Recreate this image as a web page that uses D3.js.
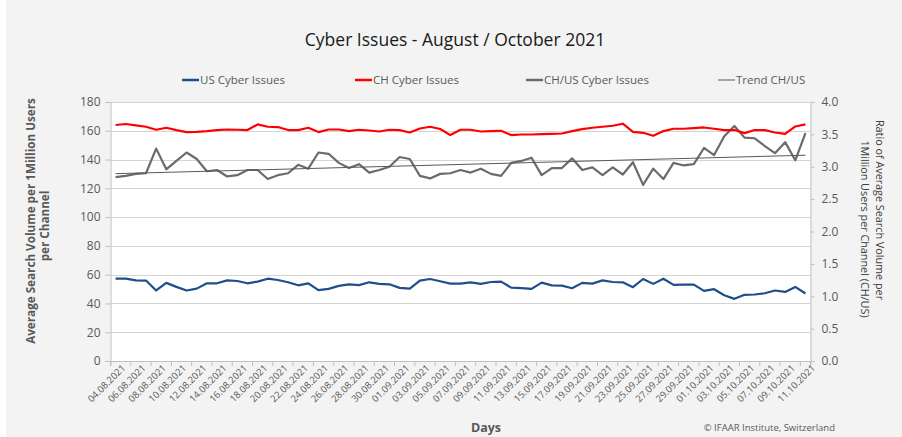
<!DOCTYPE html>
<html>
<head>
<meta charset="utf-8">
<script src="https://cdn.jsdelivr.net/npm/d3@7"></script>
<style>
  body { margin: 0; background: #ffffff; }
  svg { display: block; font-family: "Open Sans", "Noto Sans", sans-serif; }
</style>
</head>
<body>
<svg></svg>
<script>
var width = 902;
var height = 437;

var days = [
  "04.08.2021", "05.08.2021", "06.08.2021", "07.08.2021", "08.08.2021", "09.08.2021", "10.08.2021",
  "11.08.2021", "12.08.2021", "13.08.2021", "14.08.2021", "15.08.2021", "16.08.2021", "17.08.2021",
  "18.08.2021", "19.08.2021", "20.08.2021", "21.08.2021", "22.08.2021", "23.08.2021", "24.08.2021",
  "25.08.2021", "26.08.2021", "27.08.2021", "28.08.2021", "29.08.2021", "30.08.2021", "31.08.2021",
  "01.09.2021", "02.09.2021", "03.09.2021", "04.09.2021", "05.09.2021", "06.09.2021", "07.09.2021",
  "08.09.2021", "09.09.2021", "10.09.2021", "11.09.2021", "12.09.2021", "13.09.2021", "14.09.2021",
  "15.09.2021", "16.09.2021", "17.09.2021", "18.09.2021", "19.09.2021", "20.09.2021", "21.09.2021",
  "22.09.2021", "23.09.2021", "24.09.2021", "25.09.2021", "26.09.2021", "27.09.2021", "28.09.2021",
  "29.09.2021", "30.09.2021", "01.10.2021", "02.10.2021", "03.10.2021", "04.10.2021", "05.10.2021",
  "06.10.2021", "07.10.2021", "08.10.2021", "09.10.2021", "10.10.2021", "11.10.2021"
];

var usIssues = [
  57.2, 57.2, 56, 55.9, 49, 54.3, 51.5, 49, 50.3, 54,
  54, 56, 55.6, 54, 55.2, 57.2, 56.3, 54.7, 52.6, 54,
  49.2, 50.1, 52.2, 53.2, 52.7, 54.7, 53.6, 53.3, 50.8, 50.3,
  55.9, 57, 55.4, 53.8, 53.8, 54.7, 53.6, 54.9, 55.2, 51,
  50.6, 50.1, 54.5, 52.6, 52.4, 50.6, 54.3, 53.8, 56, 54.9,
  54.7, 51.3, 57, 53.6, 57.2, 52.9, 53.1, 53.1, 48.7, 49.9,
  45.7, 43.2, 46, 46.2, 47.1, 49, 48, 51.5, 46.9
];

var chIssues = [
  164, 164.7, 163.7, 162.8, 160.7, 162.1, 160.5, 159.1, 159.3, 159.8,
  160.5, 160.9, 160.7, 160.5, 164.4, 162.8, 162.6, 160.5, 160.5, 162.1,
  159.1, 160.9, 160.9, 159.7, 160.7, 160.2, 159.5, 160.7, 160.5, 158.8,
  161.6, 162.8, 161.2, 157, 160.7, 160.7, 159.5, 159.8, 160, 157,
  157.4, 157.4, 157.7, 157.9, 158.1, 159.8, 161.2, 162.1, 162.8, 163.5,
  164.9, 159.3, 158.6, 156.5, 159.8, 161.4, 161.4, 161.9, 162.3, 161.4,
  160.5, 160.5, 158.4, 160.5, 160.5, 158.8, 157.9, 163, 164.4
];

var ratioChUs = [
  2.84, 2.86, 2.89, 2.90, 3.28, 2.96, 3.09, 3.22, 3.12, 2.93,
  2.95, 2.85, 2.87, 2.95, 2.95, 2.81, 2.87, 2.90, 3.03, 2.97,
  3.22, 3.20, 3.06, 2.98, 3.04, 2.91, 2.95, 3.00, 3.15, 3.12,
  2.86, 2.82, 2.89, 2.90, 2.95, 2.91, 2.97, 2.89, 2.86, 3.06,
  3.09, 3.14, 2.87, 2.98, 2.98, 3.13, 2.95, 2.99, 2.87, 2.99,
  2.88, 3.07, 2.72, 2.97, 2.81, 3.06, 3.02, 3.04, 3.29, 3.18,
  3.47, 3.63, 3.45, 3.44, 3.32, 3.21, 3.38, 3.10, 3.52
];

// trend line CH/US, first and last day
var trendDays = ["04.08.2021", "11.10.2021"];
var trendChUs = [2.893, 3.178];

var leftTicks = [0, 20, 40, 60, 80, 100, 120, 140, 160, 180];
var rightTicks = [0, 0.5, 1, 1.5, 2, 2.5, 3, 3.5, 4];

var legendItems = [
  { name: "US Cyber Issues", color: "#1f4e8c", w: 2.5, x: 182 },
  { name: "CH Cyber Issues", color: "#ff0000", w: 2.5, x: 355 },
  { name: "CH/US Cyber Issues", color: "#6b6b6b", w: 2.5, x: 526 },
  { name: "Trend CH/US", color: "#595959", w: 1, x: 718 }
];

var svg = d3.select("svg")
  .attr("width", width)
  .attr("height", height);

svg.append("rect")
  .attr("x", 6).attr("y", 0)
  .attr("width", width - 6).attr("height", height)
  .attr("fill", "#f3f3f3");

var xScale = d3.scaleBand()
  .domain(days)
  .range([110.5, 810.5]);

var yLeft = d3.scaleLinear().domain([0, 180]).range([361, 102]);
var yRight = d3.scaleLinear().domain([0, 4]).range([361, 102]);

var cx = d => xScale(d) + xScale.bandwidth() / 2;

svg.append("rect")
  .attr("x", 110.5).attr("y", 102)
  .attr("width", 700).attr("height", 259)
  .attr("fill", "#ffffff");

// gridlines
svg.append("g")
  .selectAll("line")
  .data(leftTicks.slice(1))
  .join("line")
    .attr("x1", 110.5).attr("x2", 810.5)
    .attr("y1", d => Math.round(yLeft(d)) + 0.5)
    .attr("y2", d => Math.round(yLeft(d)) + 0.5)
    .attr("stroke", "#d4d4d4");

// left axis
var gLeft = svg.append("g")
  .attr("transform", "translate(110.5,0)")
  .call(d3.axisLeft(yLeft).tickValues(leftTicks).tickSize(5).tickPadding(5));

// right axis
var gRight = svg.append("g")
  .attr("transform", "translate(810.5,0)")
  .call(d3.axisRight(yRight).tickValues(rightTicks).tickSize(4).tickPadding(7)
    .tickFormat(d3.format(".1f")));

// bottom axis, a label on every second day
var tickDays = days.filter((d, i) => i % 2 === 0);
var gBottom = svg.append("g")
  .attr("transform", "translate(0,361)")
  .call(d3.axisBottom(xScale).tickValues(tickDays).tickSize(5).tickFormat(d => d));

gBottom.selectAll(".tick line")
  .attr("transform", "translate(" + (-xScale.bandwidth() / 2) + ",0)");

gBottom.selectAll(".tick text")
  .attr("text-anchor", "end")
  .attr("x", 2)
  .attr("y", 6)
  .attr("dy", "0.71em")
  .attr("transform", "rotate(-45)")
  .attr("font-size", 9.5);

svg.append("line")
  .attr("x1", 810.5).attr("x2", 810.5)
  .attr("y1", 361).attr("y2", 366)
  .attr("stroke", "#bfbfbf");

[gLeft, gRight, gBottom].forEach(g => {
  g.select(".domain").attr("stroke", "#bfbfbf");
  g.selectAll(".tick line").attr("stroke", "#bfbfbf");
  g.selectAll(".tick text")
    .attr("fill", "#595959")
    .style("font-family", "'Open Sans', sans-serif");
});
gLeft.selectAll(".tick text").attr("font-size", 12);
gRight.selectAll(".tick text").attr("font-size", 12);

// lines
var lineLeft = d3.line().x((d, i) => cx(days[i])).y(d => yLeft(d));
var lineRight = d3.line().x((d, i) => cx(days[i])).y(d => yRight(d));

svg.append("path")
  .datum(ratioChUs)
  .attr("d", lineRight)
  .attr("fill", "none")
  .attr("stroke", "#6b6b6b")
  .attr("stroke-width", 2.2)
  .attr("stroke-linejoin", "round");

svg.append("path")
  .datum(trendChUs)
  .attr("d", d3.line().x((d, i) => cx(trendDays[i])).y(d => yRight(d)))
  .attr("fill", "none")
  .attr("stroke", "#595959")
  .attr("stroke-width", 1);

svg.append("path")
  .datum(chIssues)
  .attr("d", lineLeft)
  .attr("fill", "none")
  .attr("stroke", "#ff0000")
  .attr("stroke-width", 2.2)
  .attr("stroke-linejoin", "round");

svg.append("path")
  .datum(usIssues)
  .attr("d", lineLeft)
  .attr("fill", "none")
  .attr("stroke", "#1f4e8c")
  .attr("stroke-width", 2.2)
  .attr("stroke-linejoin", "round");

// title
svg.append("text")
  .attr("x", 455).attr("y", 46)
  .attr("text-anchor", "middle")
  .attr("font-size", 17.5)
  .attr("fill", "#1a1a1a")
  .text("Cyber Issues - August / October 2021");

// legend
var legend = svg.append("g")
  .selectAll("g")
  .data(legendItems)
  .join("g")
    .attr("transform", d => "translate(" + d.x + ",80)");

legend.append("line")
  .attr("x1", 0).attr("x2", 17)
  .attr("stroke", d => d.color)
  .attr("stroke-width", d => d.w);

legend.append("text")
  .attr("x", 18)
  .attr("dy", "0.35em")
  .attr("font-size", 11.5)
  .attr("fill", "#595959")
  .text(d => d.name);

// axis titles
var leftTitle = svg.append("text")
  .attr("transform", "translate(35,221) rotate(-90)")
  .attr("text-anchor", "middle")
  .attr("font-size", 11.7)
  .attr("font-weight", "bold")
  .attr("fill", "#595959");
leftTitle.append("tspan").attr("x", 0).attr("y", 0).text("Average Search Volume per 1Million Users");
leftTitle.append("tspan").attr("x", -5).attr("y", 14).text("per Channel");

var rightTitle = svg.append("text")
  .attr("transform", "translate(876,220) rotate(90)")
  .attr("text-anchor", "middle")
  .attr("font-size", 10.8)
  .attr("fill", "#404040");
rightTitle.append("tspan").attr("x", -10).attr("y", 0).text("Ratio of Average Search Volume per");
rightTitle.append("tspan").attr("x", 9).attr("y", 15).text("1Million Users per Channel  (CH/US)");

svg.append("text")
  .attr("x", 486).attr("y", 432)
  .attr("text-anchor", "middle")
  .attr("font-size", 12.5)
  .attr("font-weight", "bold")
  .attr("fill", "#595959")
  .text("Days");

svg.append("text")
  .attr("x", 835).attr("y", 431)
  .attr("text-anchor", "end")
  .attr("font-size", 9.5)
  .attr("fill", "#595959")
  .text("\u00a9 IFAAR Institute, Switzerland");
</script>
</body>
</html>
